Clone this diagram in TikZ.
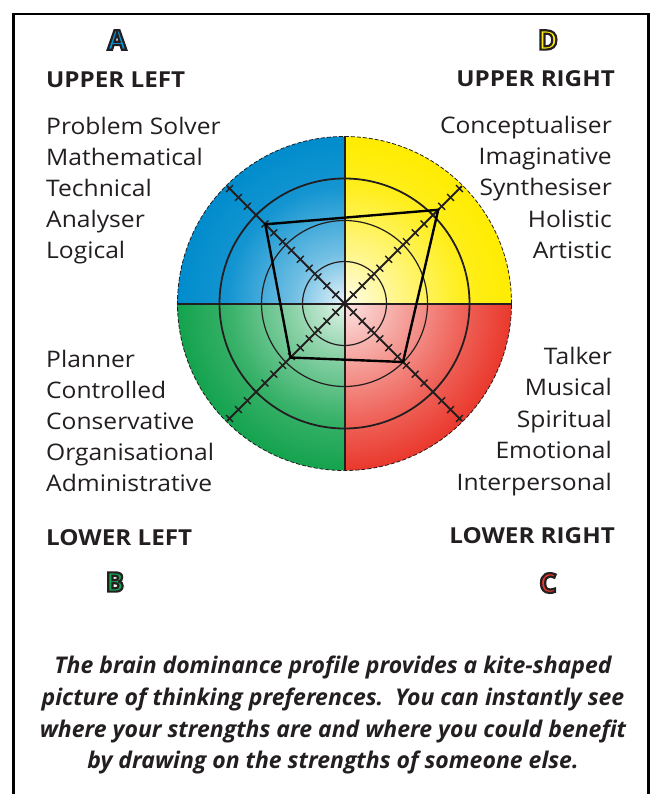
\documentclass[tikz,border=0pt]{standalone}
\usepackage{fontspec}
\setmainfont{Open Sans}
\newfontfamily\bodyfont[FakeStretch=1.08]{Open Sans}
\newfontfamily\headfont[FakeStretch=1.1]{Open Sans}
\newfontfamily\capfont{Open Sans}
\usetikzlibrary{calc}
\definecolor{txt}{RGB}{35,31,32}
\definecolor{qblue}{RGB}{0,140,205}
\definecolor{qyellow}{RGB}{255,236,0}
\definecolor{qgreen}{RGB}{20,163,78}
\definecolor{qred}{RGB}{234,56,44}
\definecolor{lblue}{RGB}{0,150,220}
\colorlet{qblueA}{qblue!10!white}\colorlet{qblueB}{qblue!55!white}\colorlet{qblueC}{qblue!92!white}
\colorlet{qyellowA}{qyellow!8!white}\colorlet{qyellowB}{qyellow!45!white}\colorlet{qyellowC}{qyellow!88!white}
\colorlet{qgreenA}{qgreen!12!white}\colorlet{qgreenB}{qgreen!48!white}\colorlet{qgreenC}{qgreen!85!white}
\colorlet{qredA}{qred!14!white}\colorlet{qredB}{qred!42!white}\colorlet{qredC}{qred!78!white}
\pgfdeclareradialshading{shblue}{\pgfpoint{0bp}{0bp}}{color(0bp)=(qblueA); color(7.5bp)=(qblueB); color(17.5bp)=(qblueC); color(25bp)=(qblue); color(50bp)=(qblue)}
\pgfdeclareradialshading{shyellow}{\pgfpoint{0bp}{0bp}}{color(0bp)=(qyellowA); color(7.5bp)=(qyellowB); color(17.5bp)=(qyellowC); color(25bp)=(qyellow); color(50bp)=(qyellow)}
\pgfdeclareradialshading{shgreen}{\pgfpoint{0bp}{0bp}}{color(0bp)=(qgreenA); color(7.5bp)=(qgreenB); color(17.5bp)=(qgreenC); color(25bp)=(qgreen); color(50bp)=(qgreen)}
\pgfdeclareradialshading{shred}{\pgfpoint{0bp}{0bp}}{color(0bp)=(qredA); color(7.5bp)=(qredB); color(17.5bp)=(qredC); color(25bp)=(qred); color(50bp)=(qred)}
\newcommand\outlined[1]{\special{pdf:literal direct 2 Tr 2.2 w 0.14 0.12 0.13 RG}#1\special{pdf:literal direct 0 Tr}}
\begin{document}
\begin{tikzpicture}[x=1pt,y=-1pt,
  lbl/.style={font=\bodyfont\fontsize{22.8}{22.8}\selectfont, inner sep=0pt, text=txt},
  head/.style={font=\headfont\fontsize{22}{22}\selectfont\bfseries, inner sep=0pt, text=txt},
  capt/.style={font=\capfont\fontsize{23}{23}\selectfont\bfseries\itshape, inner sep=0pt, text=txt, anchor=base},
  letter/.style={font=\fontsize{27}{27}\selectfont\bfseries, inner sep=0pt},
  ring/.style={draw=txt, line width=1.2pt},
  ringthick/.style={draw=txt, line width=1.8pt},
  axis/.style={draw=txt, line width=2pt},
  diag/.style={draw=txt, line width=2pt},
  tickmark/.style={draw=txt, line width=1.4pt},
  kite/.style={draw=black, line width=2.4pt, line join=miter},
  outer/.style={draw=txt, line width=0.8pt, dash pattern=on 4pt off 2pt},
  frame/.style={draw=black, line width=2.5pt}]
\useasboundingbox (0,0) rectangle (652,794);
\fill[white] (0,0) rectangle (652,794);
\coordinate (c) at (344.5,303.5);
% quadrants
\begin{scope}\clip (c) rectangle ++(-175,-175);
  \shade[shading=shblue] (c) circle[radius=167pt];\end{scope}
\begin{scope}\clip (c) rectangle ++(175,-175);
  \shade[shading=shyellow] (c) circle[radius=167pt];\end{scope}
\begin{scope}\clip (c) rectangle ++(-175,175);
  \shade[shading=shgreen] (c) circle[radius=167pt];\end{scope}
\begin{scope}\clip (c) rectangle ++(175,175);
  \shade[shading=shred] (c) circle[radius=167pt];\end{scope}
% rings
\draw[ring] (c) circle[radius=42pt];
\draw[ring] (c) circle[radius=83pt];
\draw[ringthick] (c) circle[radius=125pt];
% axes
\coordinate (axl) at ($(c)+(-167,0)$);
\coordinate (axr) at ($(c)+(167,0)$);
\coordinate (axt) at ($(c)+(0,-167)$);
\coordinate (axb) at ($(c)+(0,167)$);
\draw[axis] (axl) -- (axr);
\draw[axis] (axt) -- (axb);
% diagonals
\foreach \a/\n in {45/ur,135/ul,225/ll,315/lr}
  \coordinate (d\n) at ($(c)+(\a:166pt)$);
\draw[diag] (dul) -- (dlr);
\draw[diag] (dll) -- (dur);
\foreach \a in {45,135,225,315}{
  \begin{scope}[shift={(c)}, rotate=\a]
    \foreach \dd in {12.5,25,...,162.5}
      \draw[tickmark] (\dd pt,-4.8pt) -- (\dd pt,4.8pt);
  \end{scope}}
% kite
\coordinate (kul) at ($(c)+(135:112pt)$);
\coordinate (kur) at ($(c)+(45:132.5pt)$);
\coordinate (klr) at ($(c)+(-45:82.7pt)$);
\coordinate (kll) at ($(c)+(-135:76.4pt)$);
\draw[kite] (kul) -- (kur) -- (klr) -- (kll) -- cycle;
% outer dashed circle
\draw[outer] (c) circle[radius=167pt];
% frame
\coordinate (f1) at (13.5,800);
\coordinate (f2) at (13.5,14);
\coordinate (f3) at (648.5,14);
\coordinate (f4) at (648.5,800);
\draw[frame] (f1) -- (f2) -- (f3) -- (f4);
% letters
\node[letter, text=lblue] (letA) at (117,40) {\outlined{A}};
\node[letter, text=qyellow] (letD) at (548,40) {\outlined{D}};
\node[letter, text=qgreen] (letB) at (115,582) {\outlined{B}};
\node[letter, text=qred] (letC) at (548,583) {\outlined{C}};
% headings
\node[head, anchor=base west] (hul) at (46,88) {UPPER LEFT};
\node[head, anchor=base east] (hur) at (615,87) {UPPER RIGHT};
\node[head, anchor=base west] (hll) at (46,545) {LOWER LEFT};
\node[head, anchor=base east] (hlr) at (615,543) {LOWER RIGHT};
% columns
\foreach \t [count=\i] in {Problem Solver, Mathematical, Technical, Analyser, Logical}
  \node[lbl, anchor=base west] (ul\i) at (46,{135+30.9*(\i-1)}) {\t};
\foreach \t [count=\i] in {Conceptualiser, Imaginative, Synthesiser, Holistic, Artistic}
  \node[lbl, anchor=base east] (ur\i) at (612,{134+31*(\i-1)}) {\t};
\foreach \t [count=\i] in {Planner, Controlled, Conservative, Organisational, Administrative}
  \node[lbl, anchor=base west] (ll\i) at (46,{367+31.2*(\i-1)}) {\t};
\foreach \t [count=\i] in {Talker, Musical, Spiritual, Emotional, Interpersonal}
  \node[lbl, anchor=base east] (lr\i) at (612,{364+31.5*(\i-1)}) {\t};
% caption
\node[capt] (cap1) at (333,673) {The brain dominance profile provides a kite-shaped};
\node[capt] (cap2) at (333,705) {picture of thinking preferences.\ \ You can instantly see};
\node[capt] (cap3) at (333,737) {where your strengths are and where you could benefit};
\node[capt] (cap4) at (333,768) {by drawing on the strengths of someone else.};
\end{tikzpicture}
\end{document}
